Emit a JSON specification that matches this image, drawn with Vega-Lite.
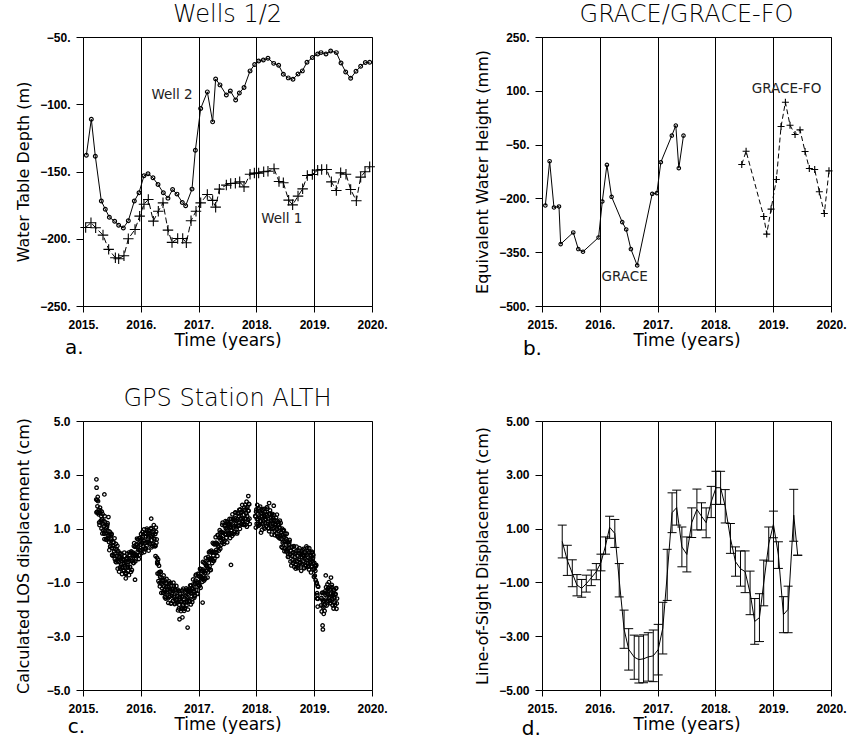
{
"$schema": "https://vega.github.io/schema/vega-lite/v6.json",
"background": "white",
"padding": {"left": 14, "top": 2, "right": 0, "bottom": 0},
"bounds": "flush",
"columns": 2,
"spacing": {"row": 115, "column": 170},
"datasets": {
"well2": [{"t":2015.058,"v":-137.9},{"t":2015.144,"v":-111.1},{"t":2015.213,"v":-138.6},{"t":2015.317,"v":-172},{"t":2015.386,"v":-178},{"t":2015.456,"v":-184},{"t":2015.548,"v":-187},{"t":2015.617,"v":-190},{"t":2015.698,"v":-192},{"t":2015.784,"v":-186.6},{"t":2015.888,"v":-172},{"t":2015.969,"v":-165.8},{"t":2016.055,"v":-153.2},{"t":2016.125,"v":-151.7},{"t":2016.211,"v":-154.7},{"t":2016.298,"v":-159.7},{"t":2016.39,"v":-165.8},{"t":2016.47,"v":-169.8},{"t":2016.55,"v":-163.4},{"t":2016.626,"v":-166.8},{"t":2016.718,"v":-173},{"t":2016.776,"v":-175.5},{"t":2016.886,"v":-163.1},{"t":2016.944,"v":-134.2},{"t":2017.036,"v":-103.2},{"t":2017.151,"v":-90.8},{"t":2017.243,"v":-113.1},{"t":2017.295,"v":-81.2},{"t":2017.37,"v":-85.6},{"t":2017.48,"v":-93.1},{"t":2017.549,"v":-90.1},{"t":2017.641,"v":-96.8},{"t":2017.705,"v":-91.6},{"t":2017.786,"v":-87.6},{"t":2017.89,"v":-75.2},{"t":2017.97,"v":-70.5},{"t":2018.039,"v":-67.8},{"t":2018.12,"v":-67.1},{"t":2018.2,"v":-65.8},{"t":2018.299,"v":-69.6},{"t":2018.385,"v":-71},{"t":2018.466,"v":-77.7},{"t":2018.552,"v":-80.4},{"t":2018.633,"v":-81.4},{"t":2018.72,"v":-77.5},{"t":2018.795,"v":-75.2},{"t":2018.875,"v":-68.8},{"t":2018.968,"v":-65.3},{"t":2019.06,"v":-62.6},{"t":2019.118,"v":-61.6},{"t":2019.204,"v":-62.6},{"t":2019.285,"v":-60.4},{"t":2019.383,"v":-61.6},{"t":2019.464,"v":-69.3},{"t":2019.545,"v":-76},{"t":2019.631,"v":-80.7},{"t":2019.723,"v":-75.5},{"t":2019.804,"v":-71.8},{"t":2019.885,"v":-69},{"t":2019.96,"v":-68.8}],
"well1": [{"t":2015.046,"v":-191.6},{"t":2015.138,"v":-188.1},{"t":2015.219,"v":-191.8},{"t":2015.346,"v":-197.3},{"t":2015.444,"v":-207.9},{"t":2015.56,"v":-214.1},{"t":2015.617,"v":-214.9},{"t":2015.709,"v":-212.6},{"t":2015.784,"v":-200},{"t":2015.9,"v":-193.1},{"t":2015.98,"v":-183.2},{"t":2016.055,"v":-174.3},{"t":2016.13,"v":-170.8},{"t":2016.217,"v":-186.9},{"t":2016.303,"v":-179.5},{"t":2016.384,"v":-173.3},{"t":2016.47,"v":-193.6},{"t":2016.54,"v":-202.7},{"t":2016.638,"v":-199.8},{"t":2016.725,"v":-199.8},{"t":2016.788,"v":-203},{"t":2016.869,"v":-186.6},{"t":2016.955,"v":-179.5},{"t":2017.036,"v":-173.3},{"t":2017.151,"v":-167.1},{"t":2017.243,"v":-171.5},{"t":2017.295,"v":-176.5},{"t":2017.359,"v":-163.1},{"t":2017.48,"v":-160.1},{"t":2017.555,"v":-158.9},{"t":2017.636,"v":-158.7},{"t":2017.711,"v":-157.7},{"t":2017.786,"v":-161.4},{"t":2017.89,"v":-152},{"t":2017.965,"v":-151.2},{"t":2018.039,"v":-151.2},{"t":2018.126,"v":-150.2},{"t":2018.2,"v":-149.8},{"t":2018.305,"v":-148},{"t":2018.391,"v":-157.4},{"t":2018.466,"v":-158.4},{"t":2018.558,"v":-171.3},{"t":2018.627,"v":-174.8},{"t":2018.72,"v":-168.3},{"t":2018.8,"v":-162.9},{"t":2018.881,"v":-153},{"t":2018.968,"v":-152.2},{"t":2019.06,"v":-149},{"t":2019.129,"v":-148.5},{"t":2019.216,"v":-148.5},{"t":2019.297,"v":-157.7},{"t":2019.383,"v":-164.1},{"t":2019.458,"v":-151},{"t":2019.55,"v":-152},{"t":2019.631,"v":-163.4},{"t":2019.729,"v":-171.8},{"t":2019.804,"v":-154.2},{"t":2019.879,"v":-150.2},{"t":2019.96,"v":-146.5}],
"grace": [{"t":2015.058,"v":-219.7},{"t":2015.132,"v":-96.2},{"t":2015.207,"v":-225.3},{"t":2015.294,"v":-222.5},{"t":2015.323,"v":-327.4},{"t":2015.541,"v":-294.9},{"t":2015.628,"v":-341.3},{"t":2015.709,"v":-348.7},{"t":2015.979,"v":-308.8},{"t":2016.043,"v":-208.6},{"t":2016.123,"v":-106.4},{"t":2016.204,"v":-195.6},{"t":2016.388,"v":-266.1},{"t":2016.457,"v":-286.5},{"t":2016.538,"v":-341.3},{"t":2016.647,"v":-386.8},{"t":2016.907,"v":-187.2},{"t":2016.987,"v":-185.3},{"t":2017.056,"v":-99},{"t":2017.246,"v":-24.8},{"t":2017.315,"v":3.1},{"t":2017.367,"v":-115.7},{"t":2017.448,"v":-24.8}],
"gracefo": [{"t":2018.456,"v":-105.5},{"t":2018.531,"v":-68.4},{"t":2018.836,"v":-250.3},{"t":2018.888,"v":-299.5},{"t":2018.963,"v":-229.9},{"t":2019.055,"v":-147.3},{"t":2019.136,"v":0.3},{"t":2019.211,"v":68.1},{"t":2019.291,"v":4},{"t":2019.378,"v":-22},{"t":2019.464,"v":-9},{"t":2019.551,"v":-69.3},{"t":2019.625,"v":-116.7},{"t":2019.718,"v":-119.4},{"t":2019.798,"v":-181.6},{"t":2019.885,"v":-242},{"t":2019.965,"v":-123.2}],
"insar": [{"t":2015.35,"v":0.52,"lo":-0.09,"hi":1.13},{"t":2015.438,"v":-0.18,"lo":-0.74,"hi":0.38},{"t":2015.524,"v":-0.66,"lo":-1.16,"hi":-0.16},{"t":2015.605,"v":-1.1,"lo":-1.5,"hi":-0.71},{"t":2015.686,"v":-1.22,"lo":-1.55,"hi":-0.89},{"t":2015.766,"v":-1.05,"lo":-1.36,"hi":-0.73},{"t":2015.853,"v":-0.83,"lo":-1.12,"hi":-0.54},{"t":2015.939,"v":-0.6,"lo":-0.9,"hi":-0.3},{"t":2016.02,"v":-0.26,"lo":-0.57,"hi":0.05},{"t":2016.1,"v":0.37,"lo":0.05,"hi":0.69},{"t":2016.17,"v":1.05,"lo":0.64,"hi":1.46},{"t":2016.26,"v":0.82,"lo":0.3,"hi":1.34},{"t":2016.336,"v":-0.92,"lo":-1.54,"hi":-0.3},{"t":2016.42,"v":-2.74,"lo":-3.45,"hi":-2.03},{"t":2016.5,"v":-3.49,"lo":-4.26,"hi":-2.72},{"t":2016.596,"v":-3.78,"lo":-4.6,"hi":-2.96},{"t":2016.676,"v":-3.87,"lo":-4.74,"hi":-3.0},{"t":2016.757,"v":-3.84,"lo":-4.73,"hi":-2.95},{"t":2016.838,"v":-3.77,"lo":-4.67,"hi":-2.87},{"t":2016.925,"v":-3.73,"lo":-4.69,"hi":-2.77},{"t":2017.01,"v":-3.5,"lo":-4.44,"hi":-2.56},{"t":2017.09,"v":-2.7,"lo":-3.66,"hi":-1.74},{"t":2017.166,"v":-0.72,"lo":-1.67,"hi":0.23},{"t":2017.25,"v":1.59,"lo":0.85,"hi":2.33},{"t":2017.33,"v":1.78,"lo":1.13,"hi":2.43},{"t":2017.42,"v":0.32,"lo":-0.42,"hi":1.06},{"t":2017.506,"v":0.04,"lo":-0.61,"hi":0.69},{"t":2017.59,"v":1.22,"lo":0.67,"hi":1.77},{"t":2017.68,"v":1.71,"lo":0.95,"hi":2.47},{"t":2017.76,"v":1.46,"lo":0.95,"hi":1.96},{"t":2017.84,"v":1.22,"lo":0.66,"hi":1.77},{"t":2017.927,"v":1.99,"lo":1.41,"hi":2.57},{"t":2018.01,"v":2.52,"lo":1.9,"hi":3.13},{"t":2018.09,"v":2.52,"lo":1.9,"hi":3.13},{"t":2018.17,"v":1.83,"lo":1.21,"hi":2.45},{"t":2018.26,"v":0.64,"lo":0.08,"hi":1.19},{"t":2018.347,"v":-0.23,"lo":-0.77,"hi":0.32},{"t":2018.434,"v":-0.49,"lo":-1.14,"hi":0.17},{"t":2018.514,"v":-0.6,"lo":-1.38,"hi":0.17},{"t":2018.6,"v":-1.39,"lo":-2.2,"hi":-0.58},{"t":2018.68,"v":-2.45,"lo":-3.3,"hi":-1.6},{"t":2018.762,"v":-2.31,"lo":-3.2,"hi":-1.42},{"t":2018.836,"v":-1.02,"lo":-1.87,"hi":-0.17},{"t":2018.923,"v":0.43,"lo":-0.21,"hi":1.06},{"t":2019.004,"v":1.16,"lo":0.66,"hi":1.65},{"t":2019.09,"v":0.02,"lo":-0.48,"hi":0.51},{"t":2019.177,"v":-2.2,"lo":-2.87,"hi":-1.53},{"t":2019.258,"v":-2.0,"lo":-2.87,"hi":-1.14},{"t":2019.355,"v":1.5,"lo":0.53,"hi":2.46},{"t":2019.424,"v":0.01,"lo":0.01,"hi":0.01}],
"gps": [
{"t":2015.23,"v":2.08},{"t":2015.24,"v":1.62},{"t":2015.25,"v":1.83},{"t":2015.26,"v":2.02},{"t":2015.27,"v":1.53},{"t":2015.28,"v":1.23},{"t":2015.29,"v":1.59},{"t":2015.30,"v":1.67},{"t":2015.31,"v":1.30},{"t":2015.32,"v":1.00},{"t":2015.33,"v":1.34},{"t":2015.34,"v":1.54},{"t":2015.35,"v":0.93},{"t":2015.36,"v":1.09},{"t":2015.37,"v":0.61},{"t":2015.38,"v":1.25},{"t":2015.39,"v":0.84},{"t":2015.40,"v":1.01},{"t":2015.41,"v":0.59},{"t":2015.42,"v":1.13},{"t":2015.43,"v":0.73},{"t":2015.44,"v":0.91},{"t":2015.45,"v":0.50},{"t":2015.46,"v":0.78},{"t":2015.47,"v":0.33},{"t":2015.48,"v":0.55},{"t":2015.49,"v":0.76},{"t":2015.50,"v":0.28},
{"t":2015.51,"v":0.00},{"t":2015.52,"v":0.39},{"t":2015.53,"v":0.49},{"t":2015.54,"v":0.15},{"t":2015.55,"v":-0.13},{"t":2015.56,"v":0.24},{"t":2015.57,"v":0.43},{"t":2015.58,"v":-0.18},{"t":2015.59,"v":-0.02},{"t":2015.60,"v":-0.49},{"t":2015.61,"v":0.16},{"t":2015.62,"v":-0.24},{"t":2015.63,"v":-0.07},{"t":2015.64,"v":-0.48},{"t":2015.65,"v":0.07},{"t":2015.66,"v":-0.32},{"t":2015.67,"v":-0.10},{"t":2015.68,"v":-0.46},{"t":2015.69,"v":-0.14},{"t":2015.70,"v":-0.54},{"t":2015.71,"v":-0.28},{"t":2015.72,"v":-0.02},{"t":2015.73,"v":-0.46},{"t":2015.74,"v":-0.69},{"t":2015.75,"v":-0.26},
{"t":2015.76,"v":-0.09},{"t":2015.77,"v":-0.36},{"t":2015.78,"v":-0.57},{"t":2015.79,"v":-0.14},{"t":2015.80,"v":0.12},{"t":2015.81,"v":-0.42},{"t":2015.82,"v":-0.20},{"t":2015.83,"v":-0.61},{"t":2015.84,"v":0.11},{"t":2015.85,"v":-0.20},{"t":2015.86,"v":0.05},{"t":2015.87,"v":-0.27},{"t":2015.88,"v":0.35},{"t":2015.89,"v":0.05},{"t":2015.90,"v":0.32},{"t":2015.91,"v":0.01},{"t":2015.92,"v":0.38},{"t":2015.93,"v":0.01},{"t":2015.94,"v":0.31},{"t":2015.95,"v":0.60},{"t":2015.96,"v":0.21},{"t":2015.97,"v":0.01},{"t":2015.98,"v":0.48},{"t":2015.99,"v":0.66},{"t":2016.00,"v":0.40},
{"t":2016.01,"v":0.19},{"t":2016.02,"v":0.62},{"t":2016.03,"v":0.88},{"t":2016.04,"v":0.33},{"t":2016.05,"v":0.55},{"t":2016.06,"v":0.13},{"t":2016.07,"v":0.83},{"t":2016.08,"v":0.48},{"t":2016.09,"v":0.71},{"t":2016.10,"v":0.35},{"t":2016.11,"v":0.94},{"t":2016.12,"v":0.60},{"t":2016.13,"v":0.84},{"t":2016.14,"v":0.49},{"t":2016.15,"v":0.83},{"t":2016.16,"v":0.44},{"t":2016.17,"v":0.72},{"t":2016.18,"v":0.99},{"t":2016.19,"v":0.57},{"t":2016.20,"v":0.35},{"t":2016.21,"v":0.78},{"t":2016.22,"v":0.93},{"t":2016.23,"v":0.63},{"t":2016.24,"v":0.39},{"t":2016.25,"v":0.80},{"t":2016.26,"v":1.04},{"t":2016.27,"v":0.47},
{"t":2016.28,"v":-0.08},{"t":2016.29,"v":-0.67},{"t":2016.30,"v":-0.15},{"t":2016.31,"v":-0.67},{"t":2016.32,"v":-0.62},{"t":2016.33,"v":-1.15},{"t":2016.34,"v":-0.61},{"t":2016.35,"v":-1.01},{"t":2016.36,"v":-0.82},{"t":2016.37,"v":-1.22},{"t":2016.38,"v":-0.93},{"t":2016.39,"v":-1.38},{"t":2016.40,"v":-1.15},{"t":2016.41,"v":-0.91},{"t":2016.42,"v":-1.35},{"t":2016.43,"v":-1.60},{"t":2016.44,"v":-1.17},{"t":2016.45,"v":-1.04},{"t":2016.46,"v":-1.34},{"t":2016.47,"v":-1.59},{"t":2016.48,"v":-1.18},{"t":2016.49,"v":-0.96},{"t":2016.50,"v":-1.53},
{"t":2016.51,"v":-1.35},{"t":2016.52,"v":-1.79},{"t":2016.53,"v":-1.13},{"t":2016.54,"v":-1.50},{"t":2016.55,"v":-1.31},{"t":2016.56,"v":-1.69},{"t":2016.57,"v":-1.13},{"t":2016.58,"v":-1.49},{"t":2016.59,"v":-1.28},{"t":2016.60,"v":-1.65},{"t":2016.61,"v":-1.34},{"t":2016.62,"v":-1.76},{"t":2016.63,"v":-1.51},{"t":2016.64,"v":-1.27},{"t":2016.65,"v":-1.72},{"t":2016.66,"v":-1.97},{"t":2016.67,"v":-1.55},{"t":2016.68,"v":-1.42},{"t":2016.69,"v":-1.73},{"t":2016.70,"v":-1.98},
{"t":2016.71,"v":-1.55},{"t":2016.72,"v":-1.30},{"t":2016.73,"v":-1.85},{"t":2016.74,"v":-1.64},{"t":2016.75,"v":-2.06},{"t":2016.76,"v":-1.37},{"t":2016.77,"v":-1.72},{"t":2016.78,"v":-1.50},{"t":2016.79,"v":-1.86},{"t":2016.80,"v":-1.27},{"t":2016.81,"v":-1.60},{"t":2016.82,"v":-1.34},{"t":2016.83,"v":-1.68},{"t":2016.84,"v":-1.32},{"t":2016.85,"v":-1.70},{"t":2016.86,"v":-1.40},{"t":2016.87,"v":-1.12},{"t":2016.88,"v":-1.52},{"t":2016.89,"v":-1.73},{"t":2016.90,"v":-1.26},
{"t":2016.91,"v":-1.07},{"t":2016.92,"v":-1.31},{"t":2016.93,"v":-1.50},{"t":2016.94,"v":-1.04},{"t":2016.95,"v":-0.75},{"t":2016.96,"v":-1.27},{"t":2016.97,"v":-1.02},{"t":2016.98,"v":-1.41},{"t":2016.99,"v":-0.70},{"t":2017.00,"v":-1.02},{"t":2017.01,"v":-0.78},{"t":2017.02,"v":-1.12},{"t":2017.03,"v":-0.50},{"t":2017.04,"v":-0.82},{"t":2017.05,"v":-0.56},{"t":2017.06,"v":-0.88},{"t":2017.07,"v":-0.52},{"t":2017.08,"v":-0.88},{"t":2017.09,"v":-0.57},{"t":2017.10,"v":-0.27},{"t":2017.11,"v":-0.66},{"t":2017.12,"v":-0.86},{"t":2017.13,"v":-0.38},{"t":2017.14,"v":-0.19},{"t":2017.15,"v":-0.44},{"t":2017.16,"v":-0.63},
{"t":2017.17,"v":-0.17},{"t":2017.18,"v":0.12},{"t":2017.19,"v":-0.40},{"t":2017.20,"v":-0.15},{"t":2017.21,"v":-0.54},{"t":2017.22,"v":0.18},{"t":2017.23,"v":-0.13},{"t":2017.24,"v":0.12},{"t":2017.25,"v":-0.20},{"t":2017.26,"v":0.43},{"t":2017.27,"v":0.13},{"t":2017.28,"v":0.41},{"t":2017.29,"v":0.10},{"t":2017.30,"v":0.48},{"t":2017.31,"v":0.13},{"t":2017.32,"v":0.45},{"t":2017.33,"v":0.76},{"t":2017.34,"v":0.37},{"t":2017.35,"v":0.18},{"t":2017.36,"v":0.66},{"t":2017.37,"v":0.85},{"t":2017.38,"v":0.59},{"t":2017.39,"v":0.40},{"t":2017.40,"v":0.86},{"t":2017.41,"v":1.14},{"t":2017.42,"v":0.62},
{"t":2017.43,"v":0.84},{"t":2017.44,"v":0.43},{"t":2017.45,"v":1.13},{"t":2017.46,"v":0.79},{"t":2017.47,"v":1.01},{"t":2017.48,"v":0.66},{"t":2017.49,"v":1.26},{"t":2017.50,"v":0.93},{"t":2017.51,"v":1.18},{"t":2017.52,"v":0.83},{"t":2017.53,"v":1.18},{"t":2017.54,"v":0.80},{"t":2017.55,"v":1.08},{"t":2017.56,"v":1.36},{"t":2017.57,"v":0.95},{"t":2017.58,"v":0.73},{"t":2017.59,"v":1.19},{"t":2017.60,"v":1.36},{"t":2017.61,"v":1.09},{"t":2017.62,"v":0.89},{"t":2017.63,"v":1.33},{"t":2017.64,"v":1.59},{"t":2017.65,"v":1.05},{"t":2017.66,"v":1.28},{"t":2017.67,"v":0.87},{"t":2017.68,"v":1.57},
{"t":2017.69,"v":1.23},{"t":2017.70,"v":1.46},{"t":2017.71,"v":1.11},{"t":2017.72,"v":1.71},{"t":2017.73,"v":1.37},{"t":2017.74,"v":1.62},{"t":2017.75,"v":1.28},{"t":2017.76,"v":1.63},{"t":2017.77,"v":1.24},{"t":2017.78,"v":1.52},{"t":2017.79,"v":1.79},{"t":2017.80,"v":1.36},{"t":2017.81,"v":1.14},{"t":2017.82,"v":1.59},{"t":2017.83,"v":1.75},{"t":2017.84,"v":1.47},{"t":2017.85,"v":1.25},{"t":2017.86,"v":1.67},{"t":2017.87,"v":1.92},{"t":2017.88,"v":1.37},
{"t":2017.98,"v":1.47},{"t":2017.99,"v":1.04},{"t":2018.00,"v":1.71},{"t":2018.01,"v":1.35},{"t":2018.02,"v":1.56},{"t":2018.03,"v":1.18},{"t":2018.04,"v":1.76},{"t":2018.05,"v":1.40},{"t":2018.06,"v":1.63},{"t":2018.07,"v":1.26},{"t":2018.08,"v":1.59},{"t":2018.09,"v":1.18},{"t":2018.10,"v":1.45},{"t":2018.11,"v":1.71},{"t":2018.12,"v":1.27},{"t":2018.13,"v":1.04},{"t":2018.14,"v":1.47},{"t":2018.15,"v":1.62},{"t":2018.16,"v":1.32},{"t":2018.17,"v":1.09},{"t":2018.18,"v":1.50},{"t":2018.19,"v":1.74},{"t":2018.20,"v":1.17},
{"t":2018.21,"v":1.35},{"t":2018.22,"v":0.90},{"t":2018.23,"v":1.56},{"t":2018.24,"v":1.19},{"t":2018.25,"v":1.38},{"t":2018.26,"v":0.99},{"t":2018.27,"v":1.55},{"t":2018.28,"v":1.18},{"t":2018.29,"v":1.39},{"t":2018.30,"v":1.02},{"t":2018.31,"v":1.33},{"t":2018.32,"v":0.91},{"t":2018.33,"v":1.17},{"t":2018.34,"v":1.41},{"t":2018.35,"v":0.96},{"t":2018.36,"v":0.72},{"t":2018.37,"v":1.14},{"t":2018.38,"v":1.25},{"t":2018.39,"v":0.91},{"t":2018.40,"v":0.64},{"t":2018.41,"v":1.02},{"t":2018.42,"v":1.21},{"t":2018.43,"v":0.61},{"t":2018.44,"v":0.76},{"t":2018.45,"v":0.29},
{"t":2018.46,"v":0.93},{"t":2018.47,"v":0.52},{"t":2018.48,"v":0.69},{"t":2018.49,"v":0.27},{"t":2018.50,"v":0.81},{"t":2018.51,"v":0.41},{"t":2018.52,"v":0.60},{"t":2018.53,"v":0.19},{"t":2018.54,"v":0.48},{"t":2018.55,"v":0.05},{"t":2018.56,"v":0.28},{"t":2018.57,"v":0.51},{"t":2018.58,"v":0.05},{"t":2018.59,"v":-0.22},{"t":2018.60,"v":0.19},{"t":2018.61,"v":0.31},{"t":2018.62,"v":-0.02},{"t":2018.63,"v":-0.28},{"t":2018.64,"v":0.12},{"t":2018.65,"v":0.35},{"t":2018.66,"v":-0.23},{"t":2018.67,"v":-0.05},{"t":2018.68,"v":-0.49},{"t":2018.69,"v":0.17},{"t":2018.70,"v":-0.21},{"t":2018.71,"v":-0.01},{"t":2018.72,"v":-0.40},
{"t":2018.73,"v":0.19},{"t":2018.74,"v":-0.16},{"t":2018.75,"v":0.08},{"t":2018.76,"v":-0.28},{"t":2018.77,"v":0.06},{"t":2018.78,"v":-0.33},{"t":2018.79,"v":-0.06},{"t":2018.80,"v":0.21},{"t":2018.81,"v":-0.22},{"t":2018.82,"v":-0.45},{"t":2018.83,"v":-0.01},{"t":2018.84,"v":0.14},{"t":2018.85,"v":-0.15},{"t":2018.86,"v":-0.38},{"t":2018.87,"v":0.04},{"t":2018.88,"v":0.28},{"t":2018.89,"v":-0.28},{"t":2018.90,"v":-0.08},{"t":2018.91,"v":-0.52},{"t":2018.92,"v":0.14},{"t":2018.93,"v":-0.23},{"t":2018.94,"v":-0.04},{"t":2018.95,"v":-0.42},{"t":2018.96,"v":0.14},{"t":2018.97,"v":-0.22},
{"t":2018.98,"v":-0.07},{"t":2018.99,"v":-0.52},{"t":2019.00,"v":-0.27},{"t":2019.01,"v":-0.75},{"t":2019.02,"v":-0.57},{"t":2019.03,"v":-0.39},{"t":2019.04,"v":-1.00},{"t":2019.05,"v":-1.40},{"t":2019.06,"v":-1.14},{"t":2019.07,"v":-1.16},
{"t":2019.12,"v":-1.85},{"t":2019.13,"v":-2.08},{"t":2019.14,"v":-1.64},{"t":2019.15,"v":-1.38},{"t":2019.16,"v":-1.93},{"t":2019.17,"v":-1.68},{"t":2019.18,"v":-2.06},{"t":2019.19,"v":-1.33},{"t":2019.20,"v":-1.64},{"t":2019.21,"v":-1.38},{"t":2019.22,"v":-1.70},{"t":2019.23,"v":-1.07},{"t":2019.24,"v":-1.43},{"t":2019.25,"v":-1.21},{"t":2019.26,"v":-1.58},{"t":2019.27,"v":-1.27},{"t":2019.28,"v":-1.68},{"t":2019.29,"v":-1.42},{"t":2019.30,"v":-1.17},{"t":2019.31,"v":-1.61},{"t":2019.32,"v":-1.85},{"t":2019.33,"v":-1.42},{"t":2019.34,"v":-1.29},{"t":2019.35,"v":-1.59},{"t":2019.36,"v":-1.84},{"t":2019.37,"v":-1.43},{"t":2019.38,"v":-1.21},{"t":2019.39,"v":-1.78},
{"t":2015.232,"v":2.83},{"t":2015.235,"v":2.52},{"t":2015.37,"v":2.27},{"t":2015.44,"v":1.43},{"t":2015.74,"v":-0.85},{"t":2015.9,"v":-0.9},{"t":2016.18,"v":1.37},{"t":2016.255,"v":-0.02},{"t":2016.285,"v":-0.24},{"t":2016.67,"v":-2.37},{"t":2016.72,"v":-2.3},{"t":2016.81,"v":-2.68},{"t":2017.07,"v":-1.75},{"t":2017.56,"v":-0.35},{"t":2017.86,"v":2.21},{"t":2017.83,"v":2.0},{"t":2018.08,"v":0.85},{"t":2018.22,"v":1.95},{"t":2018.3,"v":1.85},{"t":2019.145,"v":-2.6},{"t":2019.15,"v":-2.75},{"t":2019.2,"v":-0.74},{"t":2019.29,"v":-0.82},{"t":2019.06,"v":-1.9},{"t":2019.05,"v":-1.6},
{"t":2015.235,"v":1.60},{"t":2015.245,"v":2.06},{"t":2015.255,"v":2.18},{"t":2015.265,"v":1.59},{"t":2015.275,"v":1.70},{"t":2015.285,"v":1.13},{"t":2015.295,"v":1.78},{"t":2015.305,"v":1.23},{"t":2015.315,"v":1.47},{"t":2015.325,"v":1.63},{"t":2015.335,"v":0.82},{"t":2015.345,"v":1.16},{"t":2015.355,"v":1.29},{"t":2015.365,"v":0.81},{"t":2015.375,"v":1.46},{"t":2015.385,"v":0.90},{"t":2015.395,"v":0.60},{"t":2015.405,"v":0.59},{"t":2015.415,"v":1.06},{"t":2015.425,"v":1.20},{"t":2015.435,"v":0.63},{"t":2015.445,"v":0.75},{"t":2015.455,"v":0.20},{"t":2015.465,"v":0.88},{"t":2015.475,"v":0.35},{"t":2015.485,"v":0.62},{"t":2015.495,"v":0.80},{"t":2015.505,"v":0.02},
{"t":2015.515,"v":0.35},{"t":2015.525,"v":0.48},{"t":2015.535,"v":-0.01},{"t":2015.545,"v":0.64},{"t":2015.555,"v":0.07},{"t":2015.565,"v":-0.23},{"t":2015.575,"v":-0.25},{"t":2015.585,"v":0.22},{"t":2015.595,"v":0.36},{"t":2015.605,"v":-0.20},{"t":2015.615,"v":-0.06},{"t":2015.625,"v":-0.60},{"t":2015.635,"v":0.09},{"t":2015.645,"v":-0.43},{"t":2015.655,"v":-0.14},{"t":2015.665,"v":0.05},{"t":2015.675,"v":-0.69},{"t":2015.685,"v":-0.31},{"t":2015.695,"v":-0.14},{"t":2015.705,"v":-0.58},{"t":2015.715,"v":0.11},{"t":2015.725,"v":-0.41},{"t":2015.735,"v":-0.67},{"t":2015.745,"v":-0.64},{"t":2015.755,"v":-0.13},
{"t":2015.765,"v":0.07},{"t":2015.775,"v":-0.43},{"t":2015.785,"v":-0.24},{"t":2015.795,"v":-0.73},{"t":2015.805,"v":0.02},{"t":2015.815,"v":-0.44},{"t":2015.825,"v":-0.10},{"t":2015.835,"v":0.15},{"t":2015.845,"v":-0.54},{"t":2015.855,"v":-0.11},{"t":2015.865,"v":0.11},{"t":2015.875,"v":-0.28},{"t":2015.885,"v":0.46},{"t":2015.895,"v":-0.01},{"t":2015.905,"v":-0.22},{"t":2015.915,"v":-0.14},{"t":2015.925,"v":0.42},{"t":2015.935,"v":0.63},{"t":2015.945,"v":0.14},{"t":2015.955,"v":0.34},{"t":2015.965,"v":-0.13},{"t":2015.975,"v":0.64},{"t":2015.985,"v":0.19},{"t":2015.995,"v":0.54},
{"t":2016.005,"v":0.80},{"t":2016.015,"v":0.09},{"t":2016.025,"v":0.48},{"t":2016.035,"v":0.68},{"t":2016.045,"v":0.25},{"t":2016.055,"v":0.97},{"t":2016.065,"v":0.46},{"t":2016.075,"v":0.23},{"t":2016.085,"v":0.27},{"t":2016.095,"v":0.81},{"t":2016.105,"v":1.00},{"t":2016.115,"v":0.49},{"t":2016.125,"v":0.67},{"t":2016.135,"v":0.18},{"t":2016.145,"v":0.92},{"t":2016.155,"v":0.45},{"t":2016.165,"v":0.78},{"t":2016.175,"v":1.02},{"t":2016.185,"v":0.30},{"t":2016.195,"v":0.69},{"t":2016.205,"v":0.88},{"t":2016.215,"v":0.43},{"t":2016.225,"v":1.13},{"t":2016.235,"v":0.60},{"t":2016.245,"v":0.34},{"t":2016.255,"v":0.36},{"t":2016.265,"v":0.88},{"t":2016.275,"v":0.60},
{"t":2016.285,"v":-0.30},{"t":2016.295,"v":-0.29},{"t":2016.305,"v":-0.95},{"t":2016.315,"v":-0.38},{"t":2016.325,"v":-1.02},{"t":2016.335,"v":-0.80},{"t":2016.345,"v":-0.61},{"t":2016.355,"v":-1.39},{"t":2016.365,"v":-1.05},{"t":2016.375,"v":-0.91},{"t":2016.385,"v":-1.39},{"t":2016.395,"v":-0.74},{"t":2016.405,"v":-1.29},{"t":2016.415,"v":-1.55},{"t":2016.425,"v":-1.54},{"t":2016.435,"v":-1.03},{"t":2016.445,"v":-0.87},{"t":2016.455,"v":-1.40},{"t":2016.465,"v":-1.25},{"t":2016.475,"v":-1.76},{"t":2016.485,"v":-1.05},{"t":2016.495,"v":-1.54},
{"t":2016.505,"v":-1.24},{"t":2016.515,"v":-1.02},{"t":2016.525,"v":-1.77},{"t":2016.535,"v":-1.40},{"t":2016.545,"v":-1.24},{"t":2016.555,"v":-1.69},{"t":2016.565,"v":-1.01},{"t":2016.575,"v":-1.54},{"t":2016.585,"v":-1.81},{"t":2016.595,"v":-1.79},{"t":2016.605,"v":-1.29},{"t":2016.615,"v":-1.13},{"t":2016.625,"v":-1.67},{"t":2016.635,"v":-1.52},{"t":2016.645,"v":-2.04},{"t":2016.655,"v":-1.33},{"t":2016.665,"v":-1.83},{"t":2016.675,"v":-1.53},{"t":2016.685,"v":-1.32},{"t":2016.695,"v":-2.07},
{"t":2016.705,"v":-1.70},{"t":2016.715,"v":-1.51},{"t":2016.725,"v":-1.94},{"t":2016.735,"v":-1.23},{"t":2016.745,"v":-1.74},{"t":2016.755,"v":-1.98},{"t":2016.765,"v":-1.94},{"t":2016.775,"v":-1.41},{"t":2016.785,"v":-1.22},{"t":2016.795,"v":-1.73},{"t":2016.805,"v":-1.54},{"t":2016.815,"v":-2.01},{"t":2016.825,"v":-1.26},{"t":2016.835,"v":-1.71},{"t":2016.845,"v":-1.37},{"t":2016.855,"v":-1.11},{"t":2016.865,"v":-1.82},{"t":2016.875,"v":-1.41},{"t":2016.885,"v":-1.21},{"t":2016.895,"v":-1.62},
{"t":2016.905,"v":-0.89},{"t":2016.915,"v":-1.36},{"t":2016.925,"v":-1.57},{"t":2016.935,"v":-1.50},{"t":2016.945,"v":-0.93},{"t":2016.955,"v":-0.71},{"t":2016.965,"v":-1.18},{"t":2016.975,"v":-0.97},{"t":2016.985,"v":-1.43},{"t":2016.995,"v":-0.67},{"t":2017.005,"v":-1.12},{"t":2017.015,"v":-0.76},{"t":2017.025,"v":-0.50},{"t":2017.035,"v":-1.20},{"t":2017.045,"v":-0.78},{"t":2017.055,"v":-0.57},{"t":2017.065,"v":-0.98},{"t":2017.075,"v":-0.24},{"t":2017.085,"v":-0.72},{"t":2017.095,"v":-0.93},{"t":2017.105,"v":-0.86},{"t":2017.115,"v":-0.31},{"t":2017.125,"v":-0.09},{"t":2017.135,"v":-0.57},{"t":2017.145,"v":-0.36},{"t":2017.155,"v":-0.82},
{"t":2017.165,"v":-0.05},{"t":2017.175,"v":-0.49},{"t":2017.185,"v":-0.12},{"t":2017.195,"v":0.15},{"t":2017.205,"v":-0.53},{"t":2017.215,"v":-0.11},{"t":2017.225,"v":0.11},{"t":2017.235,"v":-0.28},{"t":2017.245,"v":0.47},{"t":2017.255,"v":0.00},{"t":2017.265,"v":-0.20},{"t":2017.275,"v":-0.12},{"t":2017.285,"v":0.45},{"t":2017.295,"v":0.68},{"t":2017.305,"v":0.21},{"t":2017.315,"v":0.43},{"t":2017.325,"v":-0.02},{"t":2017.335,"v":0.75},{"t":2017.345,"v":0.31},{"t":2017.355,"v":0.67},{"t":2017.365,"v":0.94},{"t":2017.375,"v":0.25},{"t":2017.385,"v":0.66},{"t":2017.395,"v":0.88},{"t":2017.405,"v":0.48},{"t":2017.415,"v":1.22},
{"t":2017.425,"v":0.73},{"t":2017.435,"v":0.50},{"t":2017.445,"v":0.55},{"t":2017.455,"v":1.09},{"t":2017.465,"v":1.28},{"t":2017.475,"v":0.78},{"t":2017.485,"v":0.97},{"t":2017.495,"v":0.49},{"t":2017.505,"v":1.24},{"t":2017.515,"v":0.78},{"t":2017.525,"v":1.11},{"t":2017.535,"v":1.36},{"t":2017.545,"v":0.65},{"t":2017.555,"v":1.04},{"t":2017.565,"v":1.24},{"t":2017.575,"v":0.82},{"t":2017.585,"v":1.53},{"t":2017.595,"v":1.03},{"t":2017.605,"v":0.80},{"t":2017.615,"v":0.86},{"t":2017.625,"v":1.40},{"t":2017.635,"v":1.60},{"t":2017.645,"v":1.10},{"t":2017.655,"v":1.30},{"t":2017.665,"v":0.82},{"t":2017.675,"v":1.57},
{"t":2017.685,"v":1.11},{"t":2017.695,"v":1.45},{"t":2017.705,"v":1.70},{"t":2017.715,"v":0.99},{"t":2017.725,"v":1.38},{"t":2017.735,"v":1.58},{"t":2017.745,"v":1.16},{"t":2017.755,"v":1.88},{"t":2017.765,"v":1.38},{"t":2017.775,"v":1.14},{"t":2017.785,"v":1.17},{"t":2017.795,"v":1.70},{"t":2017.805,"v":1.89},{"t":2017.815,"v":1.38},{"t":2017.825,"v":1.56},{"t":2017.835,"v":1.07},{"t":2017.845,"v":1.80},{"t":2017.855,"v":1.33},{"t":2017.865,"v":1.66},{"t":2017.875,"v":1.90},{"t":2017.885,"v":1.17},
{"t":2017.985,"v":1.45},{"t":2017.995,"v":1.63},{"t":2018.005,"v":1.18},{"t":2018.015,"v":1.88},{"t":2018.025,"v":1.36},{"t":2018.035,"v":1.10},{"t":2018.045,"v":1.13},{"t":2018.055,"v":1.64},{"t":2018.065,"v":1.82},{"t":2018.075,"v":1.29},{"t":2018.085,"v":1.46},{"t":2018.095,"v":0.95},{"t":2018.105,"v":1.68},{"t":2018.115,"v":1.19},{"t":2018.125,"v":1.51},{"t":2018.135,"v":1.73},{"t":2018.145,"v":1.00},{"t":2018.155,"v":1.37},{"t":2018.165,"v":1.55},{"t":2018.175,"v":1.10},{"t":2018.185,"v":1.80},{"t":2018.195,"v":1.27},
{"t":2018.205,"v":1.01},{"t":2018.215,"v":1.02},{"t":2018.225,"v":1.52},{"t":2018.235,"v":1.68},{"t":2018.245,"v":1.15},{"t":2018.255,"v":1.30},{"t":2018.265,"v":0.78},{"t":2018.275,"v":1.49},{"t":2018.285,"v":0.99},{"t":2018.295,"v":1.30},{"t":2018.305,"v":1.51},{"t":2018.315,"v":0.76},{"t":2018.325,"v":1.13},{"t":2018.335,"v":1.29},{"t":2018.345,"v":0.83},{"t":2018.355,"v":1.52},{"t":2018.365,"v":0.98},{"t":2018.375,"v":0.70},{"t":2018.385,"v":0.68},{"t":2018.395,"v":1.16},{"t":2018.405,"v":1.30},{"t":2018.415,"v":0.73},{"t":2018.425,"v":0.86},{"t":2018.435,"v":0.32},{"t":2018.445,"v":1.00},
{"t":2018.455,"v":0.48},{"t":2018.465,"v":0.75},{"t":2018.475,"v":0.94},{"t":2018.485,"v":0.16},{"t":2018.495,"v":0.50},{"t":2018.505,"v":0.64},{"t":2018.515,"v":0.15},{"t":2018.525,"v":0.81},{"t":2018.535,"v":0.24},{"t":2018.545,"v":-0.05},{"t":2018.555,"v":-0.05},{"t":2018.565,"v":0.44},{"t":2018.575,"v":0.58},{"t":2018.585,"v":0.03},{"t":2018.595,"v":0.17},{"t":2018.605,"v":-0.37},{"t":2018.615,"v":0.33},{"t":2018.625,"v":-0.18},{"t":2018.635,"v":0.11},{"t":2018.645,"v":0.33},{"t":2018.655,"v":-0.42},{"t":2018.665,"v":-0.06},{"t":2018.675,"v":0.11},{"t":2018.685,"v":-0.35},{"t":2018.695,"v":0.33},{"t":2018.705,"v":-0.21},{"t":2018.715,"v":-0.47},{"t":2018.725,"v":-0.45},
{"t":2018.735,"v":0.08},{"t":2018.745,"v":0.27},{"t":2018.755,"v":-0.25},{"t":2018.765,"v":-0.07},{"t":2018.775,"v":-0.57},{"t":2018.785,"v":0.17},{"t":2018.795,"v":-0.30},{"t":2018.805,"v":0.02},{"t":2018.815,"v":0.25},{"t":2018.825,"v":-0.48},{"t":2018.835,"v":-0.10},{"t":2018.845,"v":0.08},{"t":2018.855,"v":-0.36},{"t":2018.865,"v":0.34},{"t":2018.875,"v":-0.18},{"t":2018.885,"v":-0.43},{"t":2018.895,"v":-0.40},{"t":2018.905,"v":0.10},{"t":2018.915,"v":0.27},{"t":2018.925,"v":-0.27},{"t":2018.935,"v":-0.11},{"t":2018.945,"v":-0.63},{"t":2018.955,"v":0.09},{"t":2018.965,"v":-0.40},
{"t":2018.975,"v":-0.12},{"t":2018.985,"v":0.02},{"t":2018.995,"v":-0.79},{"t":2019.005,"v":-0.49},{"t":2019.015,"v":-0.40},{"t":2019.025,"v":-0.92},{"t":2019.035,"v":-0.35},{"t":2019.045,"v":-1.04},{"t":2019.055,"v":-1.47},{"t":2019.065,"v":-1.61},
{"t":2019.125,"v":-1.58},{"t":2019.135,"v":-1.39},{"t":2019.145,"v":-1.89},{"t":2019.155,"v":-1.71},{"t":2019.165,"v":-2.17},{"t":2019.175,"v":-1.40},{"t":2019.185,"v":-1.83},{"t":2019.195,"v":-1.46},{"t":2019.205,"v":-1.18},{"t":2019.215,"v":-1.86},{"t":2019.225,"v":-1.43},{"t":2019.235,"v":-1.23},{"t":2019.245,"v":-1.68},{"t":2019.255,"v":-0.99},{"t":2019.265,"v":-1.52},{"t":2019.275,"v":-1.78},{"t":2019.285,"v":-1.76},{"t":2019.295,"v":-1.26},{"t":2019.305,"v":-1.09},{"t":2019.315,"v":-1.62},{"t":2019.325,"v":-1.46},{"t":2019.335,"v":-1.97},{"t":2019.345,"v":-1.26},{"t":2019.355,"v":-1.75},{"t":2019.365,"v":-1.45},{"t":2019.375,"v":-1.23},{"t":2019.385,"v":-1.98},{"t":2019.395,"v":-1.60}
]
},
"concat": [
{
"title": {"text": "Wells 1/2"},
"width": 289, "height": 269,
"layer": [
{"data": {"name": "well2"}, "mark": {"type": "line", "color": "black", "strokeWidth": 1},
 "encoding": {"x": {"field": "t", "type": "quantitative", "scale": {"domain": [2015, 2020], "nice": false, "zero": false}, "axis": {"values": [2015,2016,2017,2018,2019,2020], "labelExpr": "format(datum.value,'d') + '.'", "title": "Time (years)"}},
 "y": {"field": "v", "type": "quantitative", "scale": {"domain": [-250, -50], "nice": false, "zero": false}, "axis": {"values": [-250,-200,-150,-100,-50], "labelExpr": "format(datum.value,'d') + '.'", "title": "Water Table Depth (m)"}}}},
{"data": {"name": "well2"}, "mark": {"type": "point", "shape": "circle", "filled": false, "color": "black", "size": 14, "strokeWidth": 1.2, "opacity": 1},
 "encoding": {"x": {"field": "t", "type": "quantitative", "scale": {"domain": [2015, 2020], "nice": false, "zero": false}}, "y": {"field": "v", "type": "quantitative", "scale": {"domain": [-250, -50], "nice": false, "zero": false}}}},
{"data": {"name": "well1"}, "mark": {"type": "line", "color": "black", "strokeWidth": 1, "strokeDash": [6, 3]},
 "encoding": {"x": {"field": "t", "type": "quantitative", "scale": {"domain": [2015, 2020], "nice": false, "zero": false}}, "y": {"field": "v", "type": "quantitative", "scale": {"domain": [-250, -50], "nice": false, "zero": false}}}},
{"data": {"name": "well1"}, "mark": {"type": "point", "shape": "M-1,0L1,0M0,-1L0,1", "filled": false, "color": "black", "size": 110, "strokeWidth": 1.1, "opacity": 1},
 "encoding": {"x": {"field": "t", "type": "quantitative", "scale": {"domain": [2015, 2020], "nice": false, "zero": false}}, "y": {"field": "v", "type": "quantitative", "scale": {"domain": [-250, -50], "nice": false, "zero": false}}}},
{"data": {"values": [{"k": 1}]}, "mark": {"type": "text", "text": "Well 2", "font": "DejaVu Sans", "fontSize": 13.5, "align": "center", "baseline": "alphabetic", "color": "#222"},
 "encoding": {"x": {"datum": 2016.54, "type": "quantitative", "scale": {"domain": [2015, 2020], "nice": false, "zero": false}}, "y": {"datum": -96, "type": "quantitative", "scale": {"domain": [-250, -50], "nice": false, "zero": false}}}},
{"data": {"values": [{"k": 1}]}, "mark": {"type": "text", "text": "Well 1", "font": "DejaVu Sans", "fontSize": 13.5, "align": "center", "baseline": "alphabetic", "color": "#222"},
 "encoding": {"x": {"datum": 2018.44, "type": "quantitative", "scale": {"domain": [2015, 2020], "nice": false, "zero": false}}, "y": {"datum": -188, "type": "quantitative", "scale": {"domain": [-250, -50], "nice": false, "zero": false}}}},
{"data": {"values": [{"k": 1}]}, "mark": {"type": "text", "text": "a.", "font": "DejaVu Sans", "fontSize": 20, "align": "left", "baseline": "alphabetic", "color": "black"},
 "encoding": {"x": {"datum": 2014.69, "type": "quantitative", "scale": {"domain": [2015, 2020], "nice": false, "zero": false}}, "y": {"datum": -286, "type": "quantitative", "scale": {"domain": [-250, -50], "nice": false, "zero": false}}}}
]
},
{
"title": {"text": "GRACE/GRACE-FO"},
"width": 289, "height": 269,
"layer": [
{"data": {"name": "grace"}, "mark": {"type": "line", "color": "black", "strokeWidth": 1},
 "encoding": {"x": {"field": "t", "type": "quantitative", "scale": {"domain": [2015, 2020], "nice": false, "zero": false}, "axis": {"values": [2015,2016,2017,2018,2019,2020], "labelExpr": "format(datum.value,'d') + '.'", "title": "Time (years)"}},
 "y": {"field": "v", "type": "quantitative", "scale": {"domain": [-500, 250], "nice": false, "zero": false}, "axis": {"values": [-500,-350,-200,-50,100,250], "labelExpr": "format(datum.value,'d') + '.'", "title": "Equivalent Water Height (mm)"}}}},
{"data": {"name": "grace"}, "mark": {"type": "point", "shape": "circle", "filled": false, "color": "black", "size": 12, "strokeWidth": 1.1, "opacity": 1},
 "encoding": {"x": {"field": "t", "type": "quantitative", "scale": {"domain": [2015, 2020], "nice": false, "zero": false}}, "y": {"field": "v", "type": "quantitative", "scale": {"domain": [-500, 250], "nice": false, "zero": false}}}},
{"data": {"name": "gracefo"}, "mark": {"type": "line", "color": "black", "strokeWidth": 1, "strokeDash": [5, 3]},
 "encoding": {"x": {"field": "t", "type": "quantitative", "scale": {"domain": [2015, 2020], "nice": false, "zero": false}}, "y": {"field": "v", "type": "quantitative", "scale": {"domain": [-500, 250], "nice": false, "zero": false}}}},
{"data": {"name": "gracefo"}, "mark": {"type": "point", "shape": "M-1,0L1,0M0,-1L0,1", "filled": false, "color": "black", "size": 49, "strokeWidth": 1.1, "opacity": 1},
 "encoding": {"x": {"field": "t", "type": "quantitative", "scale": {"domain": [2015, 2020], "nice": false, "zero": false}}, "y": {"field": "v", "type": "quantitative", "scale": {"domain": [-500, 250], "nice": false, "zero": false}}}},
{"data": {"values": [{"k": 1}]}, "mark": {"type": "text", "text": "GRACE-FO", "font": "DejaVu Sans", "fontSize": 13.5, "align": "center", "baseline": "alphabetic", "color": "#222"},
 "encoding": {"x": {"datum": 2019.23, "type": "quantitative", "scale": {"domain": [2015, 2020], "nice": false, "zero": false}}, "y": {"datum": 95, "type": "quantitative", "scale": {"domain": [-500, 250], "nice": false, "zero": false}}}},
{"data": {"values": [{"k": 1}]}, "mark": {"type": "text", "text": "GRACE", "font": "DejaVu Sans", "fontSize": 13.5, "align": "center", "baseline": "alphabetic", "color": "#222"},
 "encoding": {"x": {"datum": 2016.43, "type": "quantitative", "scale": {"domain": [2015, 2020], "nice": false, "zero": false}}, "y": {"datum": -430, "type": "quantitative", "scale": {"domain": [-500, 250], "nice": false, "zero": false}}}},
{"data": {"values": [{"k": 1}]}, "mark": {"type": "text", "text": "b.", "font": "DejaVu Sans", "fontSize": 20, "align": "left", "baseline": "alphabetic", "color": "black"},
 "encoding": {"x": {"datum": 2014.67, "type": "quantitative", "scale": {"domain": [2015, 2020], "nice": false, "zero": false}}, "y": {"datum": -636, "type": "quantitative", "scale": {"domain": [-500, 250], "nice": false, "zero": false}}}}
]
},
{
"title": {"text": "GPS Station ALTH"},
"width": 289, "height": 269,
"layer": [
{"data": {"name": "gps"}, "mark": {"type": "point", "shape": "circle", "filled": false, "color": "black", "size": 12, "strokeWidth": 1.3, "opacity": 1},
 "encoding": {"x": {"field": "t", "type": "quantitative", "scale": {"domain": [2015, 2020], "nice": false, "zero": false}, "axis": {"values": [2015,2016,2017,2018,2019,2020], "labelExpr": "format(datum.value,'d') + '.'", "title": "Time (years)"}},
 "y": {"field": "v", "type": "quantitative", "scale": {"domain": [-5, 5], "nice": false, "zero": false}, "axis": {"values": [-5,-3,-1,1,3,5], "labelExpr": "format(datum.value,'.1f')", "title": "Calculated LOS displacement (cm)"}}}},
{"data": {"values": [{"k": 1}]}, "mark": {"type": "text", "text": "c.", "font": "DejaVu Sans", "fontSize": 20, "align": "left", "baseline": "alphabetic", "color": "black"},
 "encoding": {"x": {"datum": 2014.735, "type": "quantitative", "scale": {"domain": [2015, 2020], "nice": false, "zero": false}}, "y": {"datum": -6.61, "type": "quantitative", "scale": {"domain": [-5, 5], "nice": false, "zero": false}}}}
]
},
{
"width": 289, "height": 269,
"layer": [
{"data": {"name": "insar"}, "mark": {"type": "rule", "color": "black", "strokeWidth": 1},
 "encoding": {"x": {"field": "t", "type": "quantitative", "scale": {"domain": [2015, 2020], "nice": false, "zero": false}, "axis": {"values": [2015,2016,2017,2018,2019,2020], "labelExpr": "format(datum.value,'d') + '.'", "title": "Time (years)"}},
 "y": {"field": "lo", "type": "quantitative", "scale": {"domain": [-5, 5], "nice": false, "zero": false}, "axis": {"values": [-5,-3,-1,1,3,5], "labelExpr": "format(datum.value,'.2f')", "title": "Line-of-Sight Displacement (cm)"}}, "y2": {"field": "hi"}}},
{"data": {"name": "insar"}, "mark": {"type": "tick", "orient": "horizontal", "size": 9, "thickness": 1, "color": "black", "opacity": 1},
 "encoding": {"x": {"field": "t", "type": "quantitative", "scale": {"domain": [2015, 2020], "nice": false, "zero": false}}, "y": {"field": "lo", "type": "quantitative", "scale": {"domain": [-5, 5], "nice": false, "zero": false}}}},
{"data": {"name": "insar"}, "mark": {"type": "tick", "orient": "horizontal", "size": 9, "thickness": 1, "color": "black", "opacity": 1},
 "encoding": {"x": {"field": "t", "type": "quantitative", "scale": {"domain": [2015, 2020], "nice": false, "zero": false}}, "y": {"field": "hi", "type": "quantitative", "scale": {"domain": [-5, 5], "nice": false, "zero": false}}}},
{"data": {"name": "insar"}, "mark": {"type": "line", "color": "black", "strokeWidth": 1},
 "encoding": {"x": {"field": "t", "type": "quantitative", "scale": {"domain": [2015, 2020], "nice": false, "zero": false}}, "y": {"field": "v", "type": "quantitative", "scale": {"domain": [-5, 5], "nice": false, "zero": false}}}},
{"data": {"values": [{"k": 1}]}, "mark": {"type": "text", "text": "d.", "font": "DejaVu Sans", "fontSize": 20, "align": "left", "baseline": "alphabetic", "color": "black"},
 "encoding": {"x": {"datum": 2014.65, "type": "quantitative", "scale": {"domain": [2015, 2020], "nice": false, "zero": false}}, "y": {"datum": -6.67, "type": "quantitative", "scale": {"domain": [-5, 5], "nice": false, "zero": false}}}}
]
}
],
"config": {
"view": {"stroke": "black", "strokeWidth": 1},
"font": "DejaVu Sans",
"axis": {"domain": false, "ticks": true, "tickColor": "black", "tickWidth": 1, "labelColor": "black", "labelFont": "Liberation Sans", "labelFontWeight": "bold", "labelFontSize": 12, "titleFont": "DejaVu Sans", "titleFontWeight": "normal", "titleColor": "black", "labelOverlap": false},
"axisX": {"grid": true, "gridColor": "black", "gridOpacity": 1, "gridWidth": 1, "tickSize": 6, "labelPadding": 7, "labelFlush": false, "labelDx": 5, "titleFontSize": 17, "titleY": 39, "titleBaseline": "alphabetic"},
"axisY": {"grid": false, "tickSize": 7, "labelPadding": 6, "titleFontSize": 16, "titleX": -55, "titleBaseline": "alphabetic"},
"title": {"font": "DejaVu Sans", "fontSize": 24, "fontWeight": 300, "color": "black", "offset": 4, "baseline": "alphabetic", "frame": "group", "anchor": "middle"}
}
}
